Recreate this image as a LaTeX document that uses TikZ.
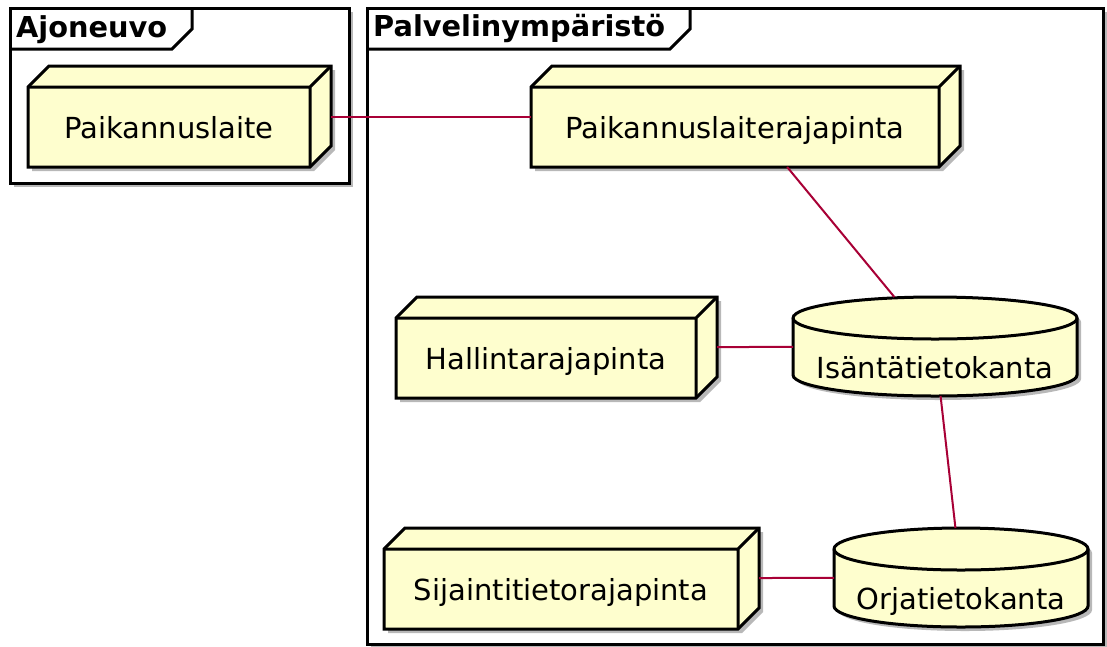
\documentclass[tikz,border=0pt]{standalone}
\usepackage{fontspec}
\setmainfont{DejaVu Sans}
\usetikzlibrary{calc}
\definecolor{nodefill}{HTML}{FEFECE}
\definecolor{conncol}{HTML}{A80036}
\tikzset{
  shapeline/.style={draw=black, line width=3pt, line join=miter},
  frameline/.style={draw=black, line width=3pt},
  shadowfill/.style={fill=black!28, draw=none},
  conn/.style={draw=conncol, line width=2pt},
  lbl/.style={font=\fontsize{29}{34}\selectfont, inner sep=0pt, anchor=base},
  ttl/.style={font=\bfseries\fontsize{28.8}{34}\selectfont, inner sep=0pt, anchor=base west},
  bbox/.style={draw=none, inner sep=0pt, outer sep=0pt, rectangle},
}
% 3D node box: style, x1, y1, x2, y2 (front face)
\newcommand{\boxshape}[5]{%
  \path[#1] (#2,#3) -- (#2+21,#3-21) -- (#4+21,#3-21) -- (#4+21,#5-21) -- (#4,#5) -- (#2,#5) -- cycle;}
\newcommand{\udbox}[6]{%
  \boxshape{shadowfill,shift={(4,4)}}{#2}{#3}{#4}{#5}
  \boxshape{shapeline,fill=nodefill}{#2}{#3}{#4}{#5}
  \draw[shapeline] (#2,#3) -- (#4,#3) -- (#4,#5) (#4,#3) -- (#4+21,#3-21);
  \node[lbl] at ({(#2+#4)/2},{(#3+#5)/2+11}) {#6};
  \pgfmathsetmacro{\udW}{#4+21-(#2)}\pgfmathsetmacro{\udH}{#5-(#3)+21}
  \node[bbox, minimum width=\udW pt, minimum height=\udH pt] (#1) at ({(#2+#4+21)/2},{(#3+#5-21)/2}) {};
}
% database: style, x1, ytop, x2, ybot
\newcommand{\dbshape}[5]{%
  \pgfmathsetmacro{\dC}{(#2+#4)/2}\pgfmathsetmacro{\dK}{0.552*(#4-(#2))/2}%
  \path[#1] (#2,#3+21) -- (#2,#5-21) .. controls (#2,#5-21+11.6) and (\dC-\dK,#5) .. (\dC,#5)
    .. controls (\dC+\dK,#5) and (#4,#5-21+11.6) .. (#4,#5-21) -- (#4,#3+21)
    .. controls (#4,#3+21-11.6) and (\dC+\dK,#3) .. (\dC,#3)
    .. controls (\dC-\dK,#3) and (#2,#3+21-11.6) .. cycle;}
\newcommand{\uddb}[6]{%
  \dbshape{shadowfill,shift={(4,4)}}{#2}{#3}{#4}{#5}
  \dbshape{shapeline,fill=nodefill}{#2}{#3}{#4}{#5}
  \pgfmathsetmacro{\dC}{(#2+#4)/2}\pgfmathsetmacro{\dK}{0.552*(#4-(#2))/2}%
  \draw[shapeline] (#2,#3+21) .. controls (#2,#3+21+11.6) and (\dC-\dK,#3+42) .. (\dC,#3+42)
    .. controls (\dC+\dK,#3+42) and (#4,#3+21+11.6) .. (#4,#3+21);
  \node[lbl] at (\dC,#3+81) {#6};
  \pgfmathsetmacro{\udW}{#4-(#2)}\pgfmathsetmacro{\udH}{#5-(#3)}
  \node[bbox, minimum width=\udW pt, minimum height=\udH pt] (#1) at ({(#2+#4)/2},{(#3+#5)/2}) {};
}
\begin{document}
\begin{tikzpicture}[x=1pt,y=-1pt]
\useasboundingbox (0,0) rectangle (1107,646);
% frames
\fill[shadowfill] (14,12) rectangle (353,187);
\draw[frameline, fill=white] (10,8) rectangle (349,183);
\draw[frameline] (10,49) -- (172,49) -- (192,29) -- (192,8);
\node[ttl] (ajoneuvo) at (16,37) {Ajoneuvo};
\fill[shadowfill] (371,12) rectangle (1107,648);
\draw[frameline, fill=white] (367,8) rectangle (1103,644);
\draw[frameline] (367,49) -- (670,49) -- (690,29) -- (690,8);
\node[ttl] (palvelin) at (373,36) {Palvelinympäristö};
% nodes
\udbox{pl}{28}{87}{310}{167}{Paikannuslaite}
\udbox{plr}{531}{87}{939}{167}{Paikannuslaiterajapinta}
\udbox{hr}{396}{318}{696}{398}{Hallintarajapinta}
\udbox{sr}{384}{549}{738}{629}{Sijaintitietorajapinta}
\uddb{isa}{793}{297}{1077}{396}{Isäntätietokanta}
\uddb{orja}{834}{528}{1088}{627}{Orjatietokanta}
% connectors
\draw[conn] (pl) -- (plr);
\draw[conn] (plr) -- (isa);
\draw[conn] (hr) -- (isa);
\draw[conn] (isa) -- (orja);
\draw[conn] (sr) -- (orja);
\end{tikzpicture}
\end{document}
